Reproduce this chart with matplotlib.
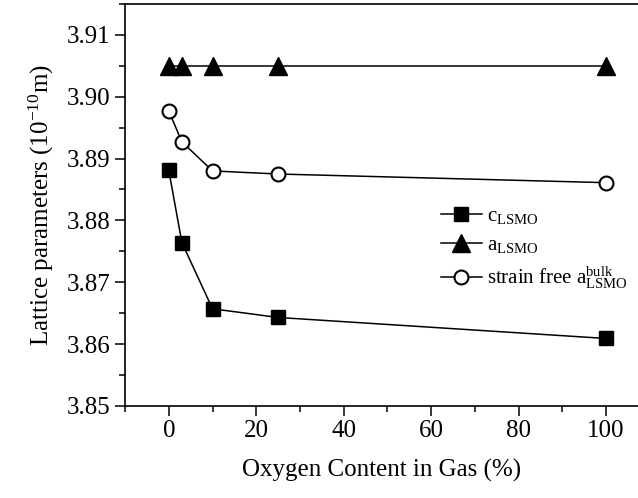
import matplotlib
matplotlib.use("Agg")
import matplotlib.pyplot as plt
from matplotlib.ticker import MultipleLocator

plt.rcParams['font.family'] = ['Liberation Serif', 'DejaVu Serif']
plt.rcParams['mathtext.fontset'] = 'custom'
plt.rcParams['mathtext.rm'] = 'Liberation Serif'
plt.rcParams['mathtext.it'] = 'Liberation Serif:italic'

# data
oxygen = [0, 3, 10, 25, 100]
c_lsmo = [3.8881, 3.8764, 3.8657, 3.8643, 3.8609]
a_lsmo = [3.9050, 3.9050, 3.9050, 3.9050, 3.9050]
a_bulk = [3.8977, 3.8927, 3.8880, 3.8875, 3.8861]

fig = plt.figure(figsize=(6.38, 4.98), dpi=100)
ax = fig.add_axes([0.196, 0.185, 0.804, 0.807])

ax.plot(oxygen, c_lsmo, '-s', color='black', lw=1.1, ms=10.5,
        label=r'c$_{\mathrm{LSMO}}$')
ax.plot(oxygen, a_lsmo, '-^', color='black', lw=1.1, ms=13,
        label=r'a$_{\mathrm{LSMO}}$')
ax.plot(oxygen, a_bulk, '-o', color='black', lw=1.1, ms=10,
        mfc='white', mew=1.5,
        label=r'strain free a$^{\mathrm{bulk}}_{\mathrm{LSMO}}$')

ax.set_xlim(-10, 107.3)
ax.set_ylim(3.85, 3.915)
ax.xaxis.set_major_locator(MultipleLocator(20))
ax.xaxis.set_minor_locator(MultipleLocator(10))
ax.yaxis.set_major_locator(MultipleLocator(0.01))
ax.yaxis.set_minor_locator(MultipleLocator(0.005))
ax.tick_params(which='major', direction='out', length=7, width=1.1, labelsize=18)
ax.tick_params(which='minor', direction='out', length=4, width=1.1)
ax.yaxis.set_major_formatter(matplotlib.ticker.FormatStrFormatter('%.2f'))
ax.spines['right'].set_visible(False)
for s in ['left', 'bottom', 'top']:
    ax.spines[s].set_linewidth(1.2)

ax.set_xlabel('Oxygen Content in Gas (%)', fontsize=18, labelpad=12)
ax.set_ylabel(r'Lattice parameters (10$^{-10}$m)', fontsize=18, labelpad=8)

ax.legend(loc='center left', bbox_to_anchor=(0.615, 0.39), frameon=False,
          fontsize=15, handlelength=2.0, handletextpad=0.25, labelspacing=0.45,
          borderaxespad=0, borderpad=0)

fig.savefig('out.png', dpi=100)
